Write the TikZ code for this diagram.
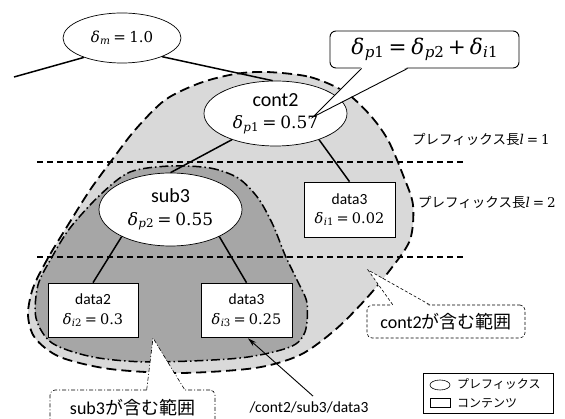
\documentclass[tikz,border=0pt]{standalone}
\usepackage{fontspec}
\usepackage{graphicx}
\setmainfont{Carlito}
\newfontfamily\jp{Noto Sans CJK JP}
\newfontfamily\mf{DejaVu Serif}
\usetikzlibrary{shapes.geometric,arrows.meta,calc}
\definecolor{lightg}{RGB}{217,217,217}
\definecolor{darkg}{RGB}{166,166,166}
\newcommand\dlt[1]{{\mf\itshape δ}\kern0.02em\raisebox{-0.3ex}{\scalebox{0.7}{\mf #1}}}
\newcommand\eqs{\hspace{0.22em}{\mf =}\hspace{0.22em}}
\newcommand\pls{\hspace{0.18em}{\mf +}\hspace{0.18em}}
\newcommand\iv[1]{{\itshape #1}}
\begin{document}
\begin{tikzpicture}[x=1pt,y=-1pt,
  prefnode/.style={ellipse,draw,fill=white,inner sep=0pt,line width=0.7pt,align=center,font=\fontsize{20}{22.5}\selectfont},
  contbox/.style={rectangle,draw,fill=white,inner sep=0pt,line width=0.7pt,align=center,font=\fontsize{15.5}{19.5}\selectfont},
  treeline/.style={line width=1.5pt},
  lvline/.style={line width=1.1pt,dash pattern=on 6pt off 4pt},
  outerarea/.style={fill=lightg,draw=black,line width=1.8pt,dash pattern=on 10pt off 5pt},
  innerarea/.style={fill=darkg,draw=black,line width=1.5pt,dash pattern=on 9pt off 3pt on 1.5pt off 3pt},
  regcall/.style={draw,fill=white,rounded corners=5pt,line width=0.6pt,inner sep=0pt},
  contdash/.style={dash pattern=on 3pt off 2pt},
  subdash/.style={dash pattern=on 4pt off 2pt on 1pt off 2pt},
  jplabel/.style={anchor=west,inner sep=0pt,font=\fontsize{13.5}{15}\selectfont}
]
\clip (0,0) rectangle (565,419);

% regions
\draw[outerarea] plot[smooth cycle] coordinates {(267,72) (310,77) (345,92) (370,115) (388,140) (403,175) (413,205) (410,240) (390,270) (365,300) (335,330) (300,355) (255,368) (180,373) (110,369) (60,357) (35,338) (28,315) (33,288) (48,258) (68,225) (90,190) (112,160) (135,130) (165,100) (200,83) (235,74)};
\draw[innerarea] plot[smooth cycle] coordinates {(170,166) (210,168) (238,178) (258,198) (273,225) (285,255) (297,280) (307,303) (305,332) (290,347) (240,358) (150,362) (93,357) (52,343) (36,318) (38,285) (52,257) (70,228) (100,195) (130,172)};

% prefix length lines
\draw[lvline] (37,162) -- (465,162);
\draw[lvline] (37,257) -- (465,257);

% nodes
\node[prefnode,minimum width=118,minimum height=50,font=\fontsize{15}{18}\selectfont] (dm) at (122,38) {\dlt{\iv{m}}\eqs{\mf 1.0}};
\node[prefnode,minimum width=143,minimum height=65] (cont2) at (275.5,113.5) {cont2\\{\fontsize{17}{22.5}\selectfont\dlt{\iv{p}1}\eqs{\mf 0.57}}};
\node[prefnode,minimum width=143,minimum height=73] (sub3) at (170.5,209.5) {sub3\\{\fontsize{17}{22.5}\selectfont\dlt{\iv{p}2}\eqs{\mf 0.55}}};
\node[contbox,minimum width=91,minimum height=55] (d3a) at (349.5,209.5) {data3\\{\fontsize{14.5}{19.5}\selectfont\dlt{\iv{i}1}\eqs{\mf 0.02}}};
\node[contbox,minimum width=90,minimum height=54] (d2) at (93,310) {data2\\{\fontsize{14.5}{19.5}\selectfont\dlt{\iv{i}2}\eqs{\mf 0.3}}};
\node[contbox,minimum width=91,minimum height=54] (d3b) at (246.5,310) {data3\\{\fontsize{14.5}{19.5}\selectfont\dlt{\iv{i}3}\eqs{\mf 0.25}}};

% tree edges
\coordinate (leftend) at (14,77);
\draw[treeline] (dm.207) -- (leftend);
\draw[treeline] (dm.335) -- (cont2.95);
\draw[treeline] (cont2.211) -- (sub3.north);
\draw[treeline] (cont2.329) -- (d3a.north);
\draw[treeline] (sub3.209) -- (d2.north);
\draw[treeline] (sub3.331) -- (d3b.north);

% formula callout
\node[draw,fill=white,rounded corners=6pt,line width=0.9pt,minimum width=189,minimum height=37,inner sep=0pt,font=\fontsize{21.5}{24}\selectfont] (cb) at (424.5,49.5) {\dlt{\iv{p}1}\eqs\dlt{\iv{p}2}\pls\dlt{\iv{i}1}};
\coordinate (tip1) at (313,117);
\fill[white] (tip1) -- ($(cb.south west)+(32,-1.5)$) -- ($(cb.south west)+(78,-1.5)$) -- cycle;
\draw[line width=0.9pt] ($(cb.south west)+(32,0)$) -- (tip1) -- ($(cb.south west)+(78,0)$);

% region callouts
\node[regcall,contdash,minimum width=158,minimum height=33,font=\fontsize{18}{20}\selectfont] (c2call) at (446,321.5) {cont2{\jp が含む範囲}};
\coordinate (tip2) at (368,270);
\fill[white] (tip2) -- ($(c2call.north west)+(26,1.5)$) -- ($(c2call.north west)+(63,1.5)$) -- cycle;
\draw[line width=0.6pt,contdash] ($(c2call.north west)+(26,0)$) -- (tip2) -- ($(c2call.north west)+(63,0)$);

\node[regcall,subdash,minimum width=165,minimum height=36,font=\fontsize{18}{20}\selectfont] (s3call) at (132.5,408) {sub3{\jp が含む範囲}};
\coordinate (tip3) at (153,338);
\fill[white] (tip3) -- ($(s3call.north west)+(97,1.5)$) -- ($(s3call.north west)+(135,1.5)$) -- cycle;
\draw[line width=0.6pt,subdash] ($(s3call.north west)+(97,0)$) -- (tip3) -- ($(s3call.north west)+(135,0)$);

% prefix length labels
\node[jplabel] (len1) at (412,139) {{\jp プレフィックス長}{\mf\itshape l}\eqs{\mf 1}};
\node[jplabel] (len2) at (418,202) {{\jp プレフィックス長}{\mf\itshape l}\eqs{\mf 2}};

% path label and arrow
\node[inner sep=2pt,font=\fontsize{15.5}{17}\selectfont] (pathlbl) at (309,407) {/cont2/sub3/data3};
\draw[line width=0.9pt,-{Stealth[length=9pt,width=5pt]}] ([xshift=4pt,yshift=3pt]pathlbl.north) -- ([xshift=1.5pt,yshift=-1pt]d3b.south);

% legend
\node[draw,line width=0.7pt,minimum width=130,minimum height=40,inner sep=0pt] (legend) at (488,393) {};
\node[ellipse,draw,line width=0.6pt,minimum width=20,minimum height=10,inner sep=0pt] (legell) at (440,385) {};
\node[rectangle,draw,line width=0.6pt,minimum width=20,minimum height=9,inner sep=0pt] (legrect) at (440,403) {};
\node[anchor=west,inner sep=0pt,font=\fontsize{12}{14}\selectfont\jp] (legt1) at (457,384) {プレフィックス};
\node[anchor=west,inner sep=0pt,font=\fontsize{12}{14}\selectfont\jp] (legt2) at (457,403) {コンテンツ};
\end{tikzpicture}
\end{document}
